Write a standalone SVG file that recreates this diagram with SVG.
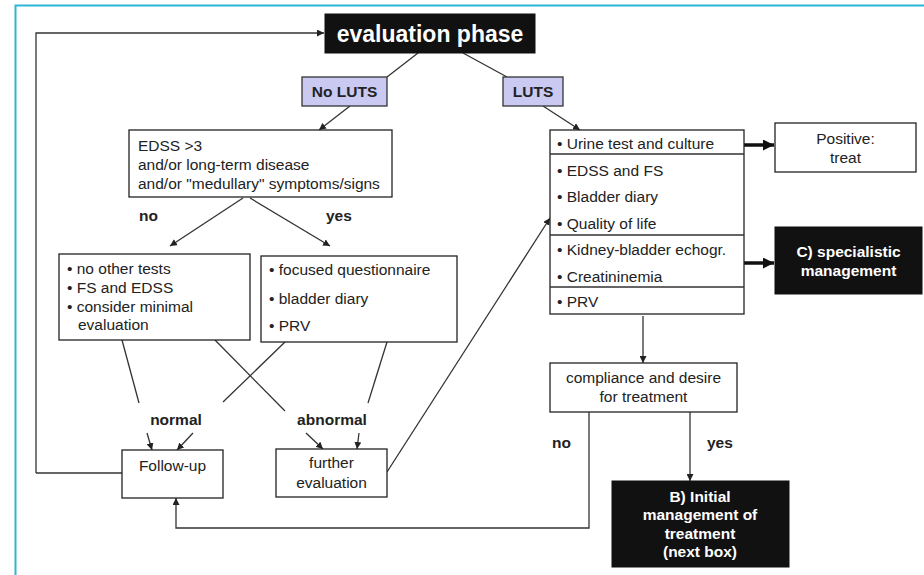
<svg xmlns="http://www.w3.org/2000/svg" width="924" height="575" viewBox="0 0 924 575">
<style>
text{font-family:"Liberation Sans",Arial,sans-serif;fill:#222;font-size:15.5px}
.b{font-weight:bold}
.w{fill:#fff;font-weight:bold}
.c{text-anchor:middle}
.box{fill:#fff;stroke:#222;stroke-width:1.3}
.blk{fill:#111;stroke:#111}
.lav{fill:#c9c9f2;stroke:#333;stroke-width:1.3}
.ln{fill:none;stroke:#333;stroke-width:1.3}
.th{fill:none;stroke:#111;stroke-width:3.5}
</style>
<defs>
<marker id="a" viewBox="0 0 10 10" refX="10" refY="5" markerWidth="7" markerHeight="7" orient="auto" markerUnits="userSpaceOnUse"><path d="M0,0L10,5L0,10z" fill="#222"/></marker>
<marker id="t" viewBox="0 0 10 10" refX="10" refY="5" markerWidth="11" markerHeight="11" orient="auto" markerUnits="userSpaceOnUse"><path d="M0,0L10,5L0,10z" fill="#111"/></marker>
</defs>
<rect width="924" height="575" fill="#fff"/>
<path d="M15.5,575V5.5H924" fill="none" stroke="#2bb5d6" stroke-width="2"/>

<g id="connectors">
<path class="ln" d="M36,473V33H324" marker-end="url(#a)"/>
<path class="ln" d="M36,473H122"/>
<path class="ln" d="M418,53L387,77"/>
<path class="ln" d="M463,53L507,77"/>
<path class="ln" d="M350,106L319,130" marker-end="url(#a)"/>
<path class="ln" d="M543,106L580,130" marker-end="url(#a)"/>
<path class="ln" d="M243,198L170,246" marker-end="url(#a)"/>
<path class="ln" d="M250,198L330,246" marker-end="url(#a)"/>
<path class="ln" d="M122,340L139,403"/>
<path class="ln" d="M215,340L285,411"/>
<path class="ln" d="M285,342L223,402"/>
<path class="ln" d="M387,342L368,403"/>
<path class="ln" d="M147,433L152,450" marker-end="url(#a)"/>
<path class="ln" d="M193,433L177,450" marker-end="url(#a)"/>
<path class="ln" d="M306,433L323,449" marker-end="url(#a)"/>
<path class="ln" d="M359,433L357,449" marker-end="url(#a)"/>
<path class="ln" d="M387,472L550,218" marker-end="url(#a)"/>
<path class="th" d="M729,145H774" marker-end="url(#t)"/>
<path class="th" d="M729,263H774" marker-end="url(#t)"/>
<path class="ln" d="M643,316V363" marker-end="url(#a)"/>
<path class="ln" d="M589,412V528H176V498" marker-end="url(#a)"/>
<path class="ln" d="M690,412V481" marker-end="url(#a)"/>
</g>

<g id="eval">
<rect class="blk" x="325" y="14" width="210" height="39"/>
<text class="w c" x="430" y="42" style="font-size:23px">evaluation phase</text>
</g>
<g id="noluts">
<rect class="lav" x="302" y="77" width="85" height="29"/>
<text class="b c" x="344.5" y="97">No LUTS</text>
</g>
<g id="luts">
<rect class="lav" x="503" y="77" width="60" height="29"/>
<text class="b c" x="533" y="97">LUTS</text>
</g>
<g id="edss">
<rect class="box" x="129" y="130" width="263" height="67"/>
<text x="138" y="151">EDSS &gt;3</text>
<text x="138" y="170">and/or long-term disease</text>
<text x="138" y="189">and/or "medullary" symptoms/signs</text>
</g>
<text class="b" x="139" y="221">no</text>
<text class="b" x="326" y="221">yes</text>
<g id="notests">
<rect class="box" x="59" y="254" width="191" height="86"/>
<text x="67" y="274">• no other tests</text>
<text x="67" y="293">• FS and EDSS</text>
<text x="67" y="312">• consider minimal</text>
<text x="78" y="330">evaluation</text>
</g>
<g id="focused">
<rect class="box" x="261" y="256" width="196" height="86"/>
<text x="269" y="275">• focused questionnaire</text>
<text x="269" y="304">• bladder diary</text>
<text x="269" y="331">• PRV</text>
</g>
<text class="b c" x="176" y="425">normal</text>
<text class="b c" x="332" y="425">abnormal</text>
<g id="followup">
<rect class="box" x="122" y="450" width="101" height="48"/>
<text class="c" x="172.5" y="471">Follow-up</text>
</g>
<g id="further">
<rect class="box" x="276" y="449" width="111" height="48"/>
<text class="c" x="331.5" y="468">further</text>
<text class="c" x="331.5" y="488">evaluation</text>
</g>
<g id="tests">
<rect class="box" x="550" y="130" width="194" height="184"/>
<path class="ln" d="M550,154H744M550,235H744M550,287H744"/>
<text x="557" y="149">• Urine test and culture</text>
<text x="557" y="176">• EDSS and FS</text>
<text x="557" y="202">• Bladder diary</text>
<text x="557" y="229">• Quality of life</text>
<text x="557" y="255">• Kidney-bladder echogr.</text>
<text x="557" y="282">• Creatininemia</text>
<text x="557" y="307">• PRV</text>
</g>
<g id="positive">
<rect class="box" x="775" y="123" width="141" height="49"/>
<text class="c" x="845.5" y="144">Positive:</text>
<text class="c" x="845.5" y="163">treat</text>
</g>
<g id="specialistic">
<rect class="blk" x="775" y="227" width="147" height="67"/>
<text class="w c" x="848.5" y="257">C) specialistic</text>
<text class="w c" x="848.5" y="276">management</text>
</g>
<g id="compliance">
<rect class="box" x="550" y="363" width="187" height="49"/>
<text class="c" x="643.5" y="383">compliance and desire</text>
<text class="c" x="643.5" y="402">for treatment</text>
</g>
<text class="b" x="552" y="448">no</text>
<text class="b" x="707" y="448">yes</text>
<g id="initial">
<rect class="blk" x="612" y="481" width="177" height="86"/>
<text class="w c" x="700" y="502">B) Initial</text>
<text class="w c" x="700" y="520">management of</text>
<text class="w c" x="700" y="539">treatment</text>
<text class="w c" x="700" y="557">(next box)</text>
</g>
</svg>
